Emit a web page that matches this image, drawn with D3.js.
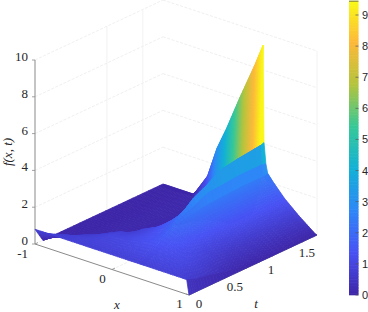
<!DOCTYPE html>
<html>
<head>
<meta charset="utf-8">
<script src="https://cdn.jsdelivr.net/npm/d3@7"></script>
<style>
  html, body { margin: 0; padding: 0; background: #fff; }
  svg { display: block; }
  text { font-family: "Liberation Serif", serif; fill: #262626; }
</style>
</head>
<body>
<svg id="chart" width="368" height="312"></svg>
<script>
/* Surface f(x,t), painted back to front with parula colours. */

var xGrid = [-1, -0.98, -0.8, -0.6, -0.42, -0.3, -0.18, 0, 0.2, 0.3, 0.312, 0.336, 0.36, 0.42, 0.58, 0.76, 0.97, 1];
var tGrid = [0, 0.11, 0.27, 0.45, 0.62, 0.8, 0.98, 1.16, 1.42, 1.73, 1.78];

var fT000 = [0.8, 0.8, 0.8, 0.8, 0.8, 0.8, 0.8, 0.8, 0.8, 0.8, 0.8, 0.8, 0.8, 0.8, 0.8, 0.8, 0.8, 0];
var fT011 = [0, 0.05, 0.6, 0.8, 0.85, 0.9, 0.9, 0.95, 1, 1.05, 1.05, 1.05, 1.05, 1.05, 1, 0.95, 0.6, 0];
var fT027 = [0, 0, 0.1, 0.55, 0.8, 0.95, 1, 1.1, 1.3, 1.35, 1.35, 1.35, 1.35, 1.3, 1.2, 1, 0.5, 0];
var fT045 = [0, 0, 0, 0.15, 0.6, 0.8, 0.85, 1.1, 1.4, 1.7, 1.75, 1.75, 1.75, 1.65, 1.25, 0.85, 0.3, 0];
var fT062 = [0, 0, 0, 0.05, 0.15, 0.4, 0.8, 1.15, 1.75, 2.15, 2.25, 2.2, 2.1, 1.85, 1.2, 0.7, 0.15, 0];
var fT080 = [0, 0, 0, 0.05, 0.05, 0.15, 0.4, 1, 2, 2.7, 2.85, 2.5, 2.2, 1.95, 1.2, 0.6, 0.08, 0];
var fT098 = [0, 0, 0, 0.05, 0.05, 0.1, 0.4, 1.2, 2.5, 3.1, 3.2, 2.85, 2.3, 2, 1.25, 0.6, 0.06, 0];
var fT116 = [0, 0, 0, 0.05, 0.05, 0.05, 0.1, 0.6, 1.5, 3, 3.67, 2.9, 2.35, 2.05, 1.3, 0.6, 0.05, 0];
var fT142 = [0, 0, 0, 0.05, 0.05, 0.05, 0.05, 0.1, 0.2, 2, 3.85, 3, 2.4, 2.1, 1.35, 0.65, 0.04, 0];
var fT173 = [0, 0, 0, 0.05, 0.05, 0.05, 0.05, 0.05, 0.1, 1.5, 4, 3, 2.4, 2.1, 1.36, 0.7, 0.05, 0];
var fT178 = [0, 0, 0, 0, 1.25, 2.9, 4.1, 6.1, 8.2, 9.35, 4.07, 2.95, 2.45, 2.14, 1.39, 0.73, 0.05, 0];
var fRows = [fT000, fT011, fT027, fT045, fT062, fT080, fT098, fT116, fT142, fT173, fT178];

var zTicks = [0, 2, 4, 6, 8, 10];
var xTicks = [-1, 0, 1];
var tTicks = [0, 0.5, 1, 1.5];
var cbarTicks = [0, 1, 2, 3, 4, 5, 6, 7, 8, 9];
var parulaStops = ["#3e26a8", "#4852f4", "#2e87f7", "#12b1d6", "#37c897", "#b4c43c", "#fdb93a", "#f9fb15"];

var zMax = 9.45, tMax = 1.78;
var svg = d3.select("#chart");

var color = d3.scaleLinear()
  .domain(parulaStops.map(function (d, i) { return i / 7 * zMax; }))
  .range(parulaStops)
  .interpolate(d3.interpolateRgb)
  .clamp(true);

// box edges on screen, the three axes each add their own offset
var x0 = 35, y0 = 244;
var xPx = d3.scaleLinear().domain([-1, 1]).range([0, 154]);
var xPy = d3.scaleLinear().domain([-1, 1]).range([0, 51]);
var tPx = d3.scaleLinear().domain([0, tMax]).range([0, 128]);
var tPy = d3.scaleLinear().domain([0, tMax]).range([0, -60]);
var zPy = d3.scaleLinear().domain([0, 10]).range([0, -184]);

function project(x, t, z) {
  return [x0 + xPx(x) + tPx(t), y0 + xPy(x) + tPy(t) + zPy(z)];
}

function seg(p, q, stroke, width, dash) {
  var a = project(p[0], p[1], p[2]), b = project(q[0], q[1], q[2]);
  var l = svg.append("line")
    .attr("x1", a[0]).attr("y1", a[1]).attr("x2", b[0]).attr("y2", b[1])
    .attr("stroke", stroke).attr("stroke-width", width);
  if (dash) l.attr("stroke-dasharray", dash);
}

// walls and floor
var gridC = "#ebebeb";
zTicks.forEach(function (z) {
  seg([-1, 0, z], [-1, tMax, z], gridC, 0.8, "3 1.5");
  seg([-1, tMax, z], [1, tMax, z], gridC, 0.8, "3 1.5");
});
[1, 1.5].forEach(function (t) { seg([-1, t, 0], [-1, t, 10], "#efefef", 0.8); });
seg([1, tMax, 0], [1, tMax, 10], "#efefef", 0.8);
seg([0, 0, 0], [0, tMax, 0], gridC, 0.8, "3 1.5");

// axes
var axisC = "#8a8a8a";
seg([-1, 0, 0], [-1, 0, 10], axisC, 1);
seg([-1, 0, 0], [1, 0, 0], axisC, 1);
seg([1, 0, 0], [1, tMax, 0], axisC, 1);

zTicks.forEach(function (z) {
  var p = project(-1, 0, z);
  svg.append("line").attr("x1", p[0] - 3).attr("x2", p[0]).attr("y1", p[1]).attr("y2", p[1])
    .attr("stroke", axisC).attr("stroke-width", 0.8);
  svg.append("text").attr("x", p[0] - 7).attr("y", p[1] + 1).attr("text-anchor", "end")
    .attr("font-size", 13).text(z);
});
xTicks.forEach(function (x) {
  var p = project(x, 0, 0);
  svg.append("line").attr("x1", p[0]).attr("y1", p[1]).attr("x2", p[0] + 3).attr("y2", p[1] - 1.4)
    .attr("stroke", axisC).attr("stroke-width", 0.8);
  svg.append("text").attr("x", x < 0 ? p[0] - 7 : p[0] - 9.5).attr("y", p[1] + (x < 0 ? 14 : 13))
    .attr("text-anchor", x < 0 ? "end" : "middle").attr("font-size", 13).text(x);
});
tTicks.forEach(function (t) {
  var p = project(1, t, 0);
  svg.append("line").attr("x1", p[0]).attr("y1", p[1]).attr("x2", p[0] - 3).attr("y2", p[1] - 1)
    .attr("stroke", axisC).attr("stroke-width", 0.8);
  svg.append("text").attr("x", p[0] + 10).attr("y", p[1] + 13)
    .attr("text-anchor", "middle").attr("font-size", 13).text(t);
});
svg.append("text").attr("x", 117).attr("y", 309).attr("text-anchor", "middle")
  .attr("font-size", 13).attr("font-style", "italic").text("x");
svg.append("text").attr("x", 256).attr("y", 308).attr("text-anchor", "middle")
  .attr("font-size", 13).attr("font-style", "italic").text("t");
svg.append("text").attr("transform", "translate(12,152) rotate(-90)").attr("text-anchor", "middle")
  .attr("font-size", 13).attr("font-style", "italic").text("f(x, t)");

// surface, far strip first
var nU = 8, nV = 4, last = tGrid.length - 2;
var surf = svg.append("g");
for (var i = last; i >= 0; i--) {
  var vSteps = i === last ? 1 : nV;
  for (var vs = vSteps - 1; vs >= 0; vs--) {
    for (var j = 0; j < xGrid.length - 1; j++) {
      var narrow = xGrid[j + 1] - xGrid[j] < 0.06;
      var cols = narrow ? 1 : (i === last ? nU * 3 : nU);
      for (var us = 0; us < cols; us++) {
        var u0 = us / cols, u1 = (us + 1) / cols, v0 = vs / vSteps, v1 = (vs + 1) / vSteps;
        var f = function (u, v) {
          var low = fRows[i][j] + (fRows[i][j + 1] - fRows[i][j]) * u;
          var high = fRows[i + 1][j] + (fRows[i + 1][j + 1] - fRows[i + 1][j]) * u;
          return low + (high - low) * v;
        };
        var pt = function (u, v) {
          return project(xGrid[j] + (xGrid[j + 1] - xGrid[j]) * u, tGrid[i] + (tGrid[i + 1] - tGrid[i]) * v, f(u, v));
        };
        var uc = narrow ? 0.5 : (u0 + u1) / 2, c;
        if (i === last) {
          // back strip keeps the colour of its far vertices, the drop is a flat sheet
          c = narrow ? Math.max(fRows[i + 1][j], fRows[i + 1][j + 1]) : f(uc, 1);
        } else {
          c = f(uc, (v0 + v1) / 2);
        }
        var quad = [pt(u0, v0), pt(u1, v0), pt(u1, v1), pt(u0, v1)];
        surf.append("path")
          .attr("d", d3.line()(quad) + "Z")
          .attr("fill", color(c))
          .attr("stroke", color(c))
          .attr("stroke-width", 0.8)
          .attr("stroke-linejoin", "round");
      }
    }
  }
}

// colour bar
var cbarY = d3.scaleLinear().domain([0, 9]).range([295, 15]);
var cbarVals = d3.range(0, 9.45, 0.05);
svg.append("g").selectAll("rect").data(cbarVals).join("rect")
  .attr("x", 349).attr("width", 9.5)
  .attr("y", function (d) { return cbarY(d + 0.05) - 0.3; })
  .attr("height", function (d) { return cbarY(d) - cbarY(d + 0.05) + 0.6; })
  .attr("fill", function (d) { return color(d); });
svg.append("line").attr("x1", 349).attr("x2", 358.5).attr("y1", 1.2).attr("y2", 1.2)
  .attr("stroke", "#555").attr("stroke-width", 0.8);
cbarTicks.forEach(function (d) {
  svg.append("line").attr("x1", 355.5).attr("x2", 358.5).attr("y1", cbarY(d)).attr("y2", cbarY(d))
    .attr("stroke", "#555").attr("stroke-width", 0.7);
  svg.append("text").attr("x", 362).attr("y", cbarY(d) + 4)
    .style("font-family", "'Liberation Sans', sans-serif").attr("font-size", 11).attr("fill", "#404040").text(d);
});
</script>
</body>
</html>
